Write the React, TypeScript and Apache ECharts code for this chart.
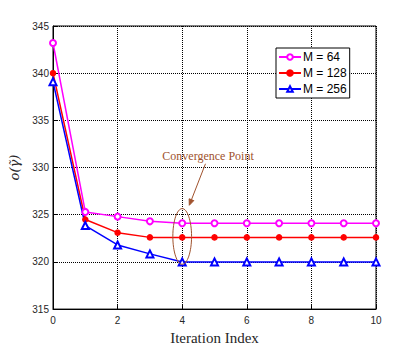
import React, { useEffect, useRef } from "react";
import * as echarts from "echarts";

const iterations = [0, 1, 2, 3, 4, 5, 6, 7, 8, 9, 10];
const m64 = [343.2, 325.3, 324.8, 324.3, 324.1, 324.1, 324.1, 324.1, 324.1, 324.1, 324.1];
const m128 = [340.0, 324.5, 323.1, 322.6, 322.6, 322.6, 322.6, 322.6, 322.6, 322.6, 322.6];
const m256 = [339.1, 323.85, 321.8, 320.85, 320.0, 320.0, 320.0, 320.0, 320.0, 320.0, 320.0];
const seriesNames = ["M = 64", "M = 128", "M = 256"];
const annotationText = "Convergence Point";
// ellipse centre / half-extent in data units, arrow start/end in data units
const ellipseCenter = [4, 322.7];
const ellipseHalf = [0.29, 2.95];
const arrowFrom = [4.72, 330.4];
const arrowTo = [4.22, 326.0];
const textAt = [4.8, 331.2];

export default function App() {
  const ref = useRef<HTMLDivElement>(null);
  useEffect(() => {
    if (!ref.current) return;
    const chart = echarts.init(ref.current, undefined, { renderer: "svg" });
    const mk = (name: string, data: number[], color: string, symbol: string, size: number) => ({
      name,
      type: "line",
      data: iterations.map((x, i) => [x, data[i]]),
      symbol,
      symbolSize: size,
      lineStyle: { color, width: 1.5 },
      itemStyle: { color, borderColor: color, borderWidth: 1.5 },
      clip: false,
    });
    chart.setOption({
      animation: false,
      backgroundColor: "#fff",
      grid: {
        left: 53,
        right: 39,
        top: 26,
        bottom: 38,
        show: true,
        borderColor: "#000",
        borderWidth: 1,
        backgroundColor: "transparent",
      },
      legend: {
        orient: "vertical",
        left: 276,
        top: 48,
        data: seriesNames,
        borderColor: "#000",
        borderWidth: 1,
        borderRadius: 0,
        backgroundColor: "#fff",
        padding: [3, 3, 3, 2],
        itemWidth: 22,
        itemHeight: 7,
        itemGap: 4,
        textStyle: { fontFamily: "Liberation Sans", fontSize: 12, color: "#000", padding: [0, 0, 0, -3] },
      },
      xAxis: {
        type: "value",
        min: 0,
        max: 10,
        interval: 2,
        name: "Iteration Index",
        nameLocation: "middle",
        nameGap: 18,
        nameTextStyle: { fontFamily: "Liberation Serif", fontSize: 15, color: "#262626" },
        axisLine: { show: true, lineStyle: { color: "#000", width: 1 } },
        axisTick: { show: true, inside: true, length: 4, lineStyle: { color: "#000" } },
        axisLabel: { fontFamily: "Liberation Sans", fontSize: 10, color: "#262626", margin: 6 },
        splitLine: { show: true, lineStyle: { color: "#000", type: [1, 1], width: 1 } },
      },
      yAxis: {
        type: "value",
        min: 315,
        max: 345,
        interval: 5,
        name: "o(\u03B3\u0303)",
        nameLocation: "middle",
        nameRotate: 90,
        nameGap: 19,
        nameTextStyle: { fontFamily: "DejaVu Serif", fontStyle: "italic", fontSize: 13, color: "#262626" },
        axisLine: { show: true, lineStyle: { color: "#000", width: 1 } },
        axisTick: { show: true, inside: true, length: 4, lineStyle: { color: "#000" } },
        axisLabel: { fontFamily: "Liberation Sans", fontSize: 10, color: "#262626", margin: 4 },
        splitLine: { show: true, lineStyle: { color: "#000", type: [1, 1], width: 1 } },
      },
      series: [
        mk(seriesNames[0], m64, "#ff00ff", "emptyCircle", 6),
        mk(seriesNames[1], m128, "#ff0000", "circle", 5),
        mk(seriesNames[2], m256, "#0000ff", "emptyTriangle", 7),
      ],
    });
    const p = (v: number[]) => chart.convertToPixel({ gridIndex: 0 }, v) as number[];
    const c = p(ellipseCenter);
    const e = p([ellipseCenter[0] + ellipseHalf[0], ellipseCenter[1] + ellipseHalf[1]]);
    const a0 = p(arrowFrom);
    const a1 = p(arrowTo);
    const t = p(textAt);
    const ang = Math.atan2(a1[1] - a0[1], a1[0] - a0[0]);
    const hl = 6, hw = 2.5;
    const bx = a1[0] - hl * Math.cos(ang), by = a1[1] - hl * Math.sin(ang);
    const brown = "#A0522D";
    chart.setOption({
      graphic: [
        {
          type: "ellipse",
          shape: { cx: c[0], cy: c[1], rx: Math.abs(e[0] - c[0]), ry: Math.abs(e[1] - c[1]) },
          style: { fill: "none", stroke: brown, lineWidth: 1 },
          z: 100,
        },
        {
          type: "line",
          shape: { x1: a0[0], y1: a0[1], x2: bx, y2: by },
          style: { stroke: brown, lineWidth: 1 },
          z: 100,
        },
        {
          type: "polygon",
          shape: {
            points: [
              [a1[0], a1[1]],
              [bx + hw * Math.sin(ang), by - hw * Math.cos(ang)],
              [bx - hw * Math.sin(ang), by + hw * Math.cos(ang)],
            ],
          },
          style: { fill: brown, stroke: brown },
          z: 100,
        },
        {
          type: "text",
          x: t[0],
          y: t[1],
          style: {
            text: annotationText,
            fill: brown,
            font: "12px 'Liberation Serif'",
            align: "center",
            verticalAlign: "middle",
          },
          z: 100,
        },
      ],
    });
    return () => chart.dispose();
  }, []);
  return <div ref={ref} style={{ width: 415, height: 350, position: "absolute", left: 0, top: 0 }} />;
}
